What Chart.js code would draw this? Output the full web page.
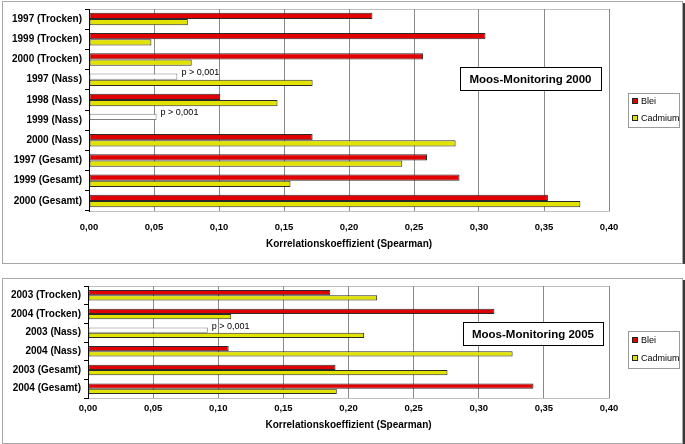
<!DOCTYPE html>
<html>
<head>
<meta charset="utf-8">
<script src="https://cdn.jsdelivr.net/npm/chart.js@4.4.1/dist/chart.umd.min.js"></script>
<style>
  body { margin: 0; background: #fff; width: 685px; height: 444px; overflow: hidden; }
  canvas { position: absolute; left: 0; }
  #chart2000 { top: 0; }
  #chart2005 { top: 266px; }
</style>
</head>
<body>
<canvas id="chart2000" width="685" height="266"></canvas>
<canvas id="chart2005" width="685" height="178"></canvas>
<script>
// Moos-Monitoring 2000
const labels2000 = ['1997 (Trocken)', '1999 (Trocken)', '2000 (Trocken)', '1997 (Nass)', '1998 (Nass)',
                    '1999 (Nass)', '2000 (Nass)', '1997 (Gesamt)', '1999 (Gesamt)', '2000 (Gesamt)'];
const blei2000 = [0.218, 0.305, 0.257, 0.068, 0.101, 0.052, 0.172, 0.260, 0.285, 0.353];
const cadmium2000 = [0.076, 0.048, 0.079, 0.172, 0.145, null, 0.282, 0.241, 0.155, 0.378];
const notSignificant2000 = [false, false, false, true, false, true, false, false, false, false];

// Moos-Monitoring 2005
const labels2005 = ['2003 (Trocken)', '2004 (Trocken)', '2003 (Nass)', '2004 (Nass)', '2003 (Gesamt)', '2004 (Gesamt)'];
const blei2005 = [0.186, 0.312, 0.092, 0.108, 0.190, 0.342];
const cadmium2005 = [0.222, 0.110, 0.212, 0.326, 0.276, 0.191];
const notSignificant2005 = [false, false, true, false, false, false];

const xTickLabels = ['0,00', '0,05', '0,10', '0,15', '0,20', '0,25', '0,30', '0,35', '0,40'];
const seriesNames = ['Blei', 'Cadmium'];
const seriesColors = ['#e00000', '#e2e200'];
const pLabel = 'p > 0,001';

Chart.defaults.font.family = '"Liberation Sans", Arial, sans-serif';
Chart.defaults.color = '#000';

// frame, title box, legend and p-labels
const decor = {
  id: 'decor',
  beforeDraw(chart, args, opts) {
    const ctx = chart.ctx;
    const f = opts.frame;
    ctx.save();
    ctx.fillStyle = '#fff';
    ctx.fillRect(0, 0, chart.width, chart.height);
    ctx.strokeStyle = '#a8a8a8';
    ctx.lineWidth = 1;
    ctx.strokeRect(f.x + 0.5, f.y + 0.5, f.w, f.h);
    ctx.strokeStyle = '#3a3a3a';
    ctx.lineWidth = 2;
    ctx.beginPath();
    ctx.moveTo(f.x + f.w + 2, f.y + 2);
    ctx.lineTo(f.x + f.w + 2, f.y + f.h + 1);
    ctx.stroke();
    const a = chart.chartArea;
    ctx.strokeStyle = '#c0c0c0';
    ctx.lineWidth = 1;
    ctx.strokeRect(a.left + 0.5, a.top + 0.5, a.right - a.left, a.bottom - a.top);
    ctx.restore();
  },
  afterDatasetsDraw(chart, args, opts) {
    const ctx = chart.ctx;
    ctx.save();

    // p > 0,001 next to the non-significant bars
    const meta = chart.getDatasetMeta(0);
    ctx.font = '9px "Liberation Sans", Arial, sans-serif';
    ctx.fillStyle = '#000';
    ctx.textBaseline = 'middle';
    opts.notSignificant.forEach(function(ns, i) {
      if (!ns) return;
      const bar = meta.data[i];
      ctx.fillText(pLabel, bar.x + 4, bar.y - bar.height / 2 - 1);
    });

    // title box
    const t = opts.titleBox;
    ctx.fillStyle = '#fff';
    ctx.fillRect(t.x, t.y, t.w, t.h);
    ctx.strokeStyle = '#000';
    ctx.lineWidth = 1;
    ctx.strokeRect(t.x + 0.5, t.y + 0.5, t.w, t.h);
    ctx.fillStyle = '#000';
    ctx.font = 'bold 11.5px "Liberation Sans", Arial, sans-serif';
    ctx.textAlign = 'center';
    ctx.fillText(opts.title, t.x + t.w / 2, t.y + t.h / 2 + 1);

    // legend
    const l = opts.legendBox;
    ctx.strokeStyle = '#9a9a9a';
    ctx.strokeRect(l.x + 0.5, l.y + 0.5, l.w, l.h);
    ctx.textAlign = 'left';
    ctx.font = '9px "Liberation Sans", Arial, sans-serif';
    seriesNames.forEach(function(name, i) {
      const cy = l.y + l.row0 + i * l.rowGap;
      ctx.fillStyle = seriesColors[i];
      ctx.fillRect(l.x + 4.5, cy - 2.5, 5, 5);
      ctx.strokeStyle = '#222';
      ctx.strokeRect(l.x + 4.5, cy - 2.5, 5, 5);
      ctx.fillStyle = '#000';
      ctx.fillText(name, l.x + 13, cy + 0.5);
    });
    ctx.restore();
  }
};

function makeChart(id, labels, blei, cadmium, notSignificant, layout) {
  const bleiFill = notSignificant.map(ns => ns ? '#fff' : seriesColors[0]);
  const bleiBorder = notSignificant.map(ns => ns ? '#808080' : '#2a2a2a');
  return new Chart(document.getElementById(id), {
    type: 'bar',
    data: {
      labels: labels,
      datasets: [
        {
          label: seriesNames[0],
          data: blei,
          backgroundColor: bleiFill,
          borderColor: bleiBorder,
          borderWidth: 1,
          borderSkipped: false
        },
        {
          label: seriesNames[1],
          data: cadmium,
          backgroundColor: seriesColors[1],
          borderColor: '#2a2a2a',
          borderWidth: 1,
          borderSkipped: false
        }
      ]
    },
    options: {
      indexAxis: 'y',
      responsive: false,
      animation: false,
      devicePixelRatio: 1,
      datasets: {
        bar: { categoryPercentage: layout.categoryPercentage, barPercentage: 1.0 }
      },
      layout: {
        padding: { top: layout.top, right: layout.right, left: 0, bottom: 0 }
      },
      plugins: {
        legend: { display: false },
        tooltip: { enabled: false },
        decor: {
          frame: layout.frame,
          titleBox: layout.titleBox,
          legendBox: layout.legendBox,
          title: layout.title,
          notSignificant: notSignificant
        }
      },
      scales: {
        x: {
          type: 'linear',
          min: 0,
          max: 0.4,
          afterFit: function(scale) { scale.height = layout.xAxisHeight; },
          grid: { color: '#8a8a8a', drawTicks: false },
          border: { color: '#c0c0c0' },
          ticks: {
            stepSize: 0.05,
            padding: layout.tickPad,
            font: { size: 9.5, weight: 'bold' },
            callback: function(value, index) { return xTickLabels[index]; }
          },
          title: {
            display: true,
            text: 'Korrelationskoeffizient (Spearman)',
            font: { size: 10, weight: 'bold' },
            padding: { top: 6, bottom: layout.titleBottom }
          }
        },
        y: {
          afterFit: function(scale) { scale.width = layout.axisLeft; },
          grid: { offset: true, drawOnChartArea: false, drawTicks: true, tickLength: 4, color: '#000' },
          border: { color: '#000' },
          ticks: { padding: 3, font: { size: 10, weight: 'bold' } }
        }
      }
    },
    plugins: [decor]
  });
}

makeChart('chart2000', labels2000, blei2000, cadmium2000, notSignificant2000, {
  top: 8, right: 76, axisLeft: 89, xAxisHeight: 55, tickPad: 11, titleBottom: 16, categoryPercentage: 0.62,
  frame: { x: 2, y: 1, w: 680, h: 262 },
  titleBox: { x: 460, y: 67, w: 141, h: 23 },
  legendBox: { x: 628, y: 93, w: 51, h: 34, row0: 8, rowGap: 17 },
  title: 'Moos-Monitoring 2000'
});

makeChart('chart2005', labels2005, blei2005, cadmium2005, notSignificant2005, {
  top: 20, right: 76, axisLeft: 88, xAxisHeight: 46, tickPad: 5, titleBottom: 13, categoryPercentage: 0.56,
  frame: { x: 2, y: 12, w: 680, h: 165 },
  titleBox: { x: 463, y: 56, w: 140, h: 23 },
  legendBox: { x: 628, y: 65, w: 51, h: 37, row0: 9, rowGap: 18 },
  title: 'Moos-Monitoring 2005'
});
</script>
</body>
</html>
